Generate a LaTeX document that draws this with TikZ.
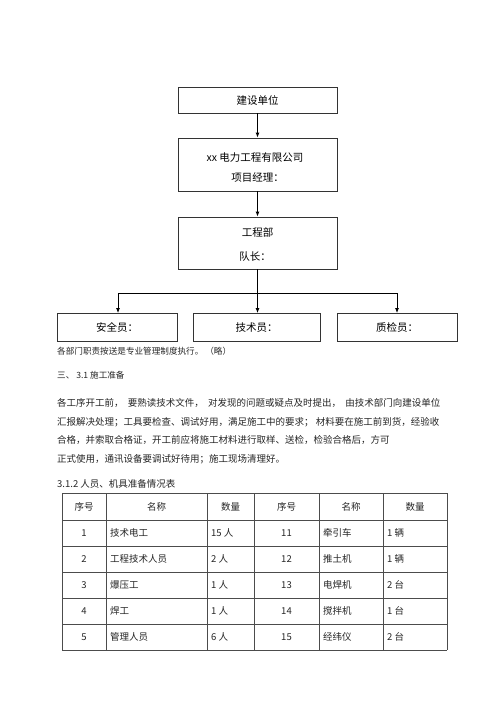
\documentclass[tikz,border=0pt]{standalone}
\usepackage{fontspec}
\setmainfont{Noto Sans CJK SC}
\usetikzlibrary{arrows.meta}
\begin{document}
\begin{tikzpicture}[x=1pt,y=-1pt,
  orgbox/.style={draw=black!80,line width=0.8pt,minimum height=#1,inner sep=0pt},
  con/.style={draw=black,line width=0.9pt},
  arr/.style={con,-{Latex[length=5pt,width=4pt]}},
  boxtxt/.style={font=\fontsize{10.5}{12}\selectfont,inner sep=0pt},
  para/.style={font=\fontsize{9.5}{11}\selectfont,inner sep=0pt,anchor=west,text=black!85},
  tab/.style={font=\fontsize{9.5}{11}\selectfont,inner sep=0pt,text=black!85},
  tabl/.style={tab,anchor=west},
  grid/.style={draw=black!70,line width=0.8pt}
]
\useasboundingbox[fill=white] (0,0) rectangle (500,708);

% org chart boxes
\node[orgbox=26pt,minimum width=159pt] (b1) at (257.5,100) {};
\node[boxtxt] (t1) at (257.5,100) {建设单位};
\node[orgbox=53pt,minimum width=159pt] (b2) at (257.5,164.5) {};
\node[boxtxt] (t2a) at (255,158) {xx 电力工程有限公司};
\node[boxtxt] (t2b) at (257.5,178) {项目经理：};
\node[orgbox=52pt,minimum width=159pt] (b3) at (257.5,243) {};
\node[boxtxt] (t3a) at (257.5,232) {工程部};
\node[boxtxt] (t3b) at (255,257) {队长：};
\node[orgbox=28pt,minimum width=120pt] (ba) at (117,327.5) {};
\node[boxtxt] (ta) at (117,327.5) {安全员：};
\node[orgbox=28pt,minimum width=127pt] (bb) at (256.5,327.5) {};
\node[boxtxt] (tb) at (256.5,327.5) {技术员：};
\node[orgbox=28pt,minimum width=120pt] (bc) at (397,327.5) {};
\node[boxtxt] (tc) at (397,327.5) {质检员：};

% connectors
\draw[arr] (b1.south) -- (b2.north);
\draw[arr] (b2.south) -- (b3.north);
\coordinate (j) at (257.5,293);
\coordinate (jl) at (118,293);
\coordinate (jr) at (397,293);
\draw[con] (b3.south) -- (j);
\draw[con] (jl) -- (jr);
\draw[arr] (jl) -- (jl |- ba.north);
\draw[arr] (j) -- (j |- bb.north);
\draw[arr] (jr) -- (jr |- bc.north);

% texts
\node[para,font=\fontsize{8.6}{10}\selectfont] (p0) at (57,351) {各部门职责按送是专业管理制度执行。 （略）};
\node[para,font=\fontsize{8.6}{10}\selectfont] (h1) at (57,375) {三、 3.1 施工准备};
\node[para] (p1) at (57,403) {各工序开工前，\ \ 要熟读技术文件，\ \ 对发现的问题或疑点及时提出，\ \ 由技术部门向建设单位};
\node[para] (p2) at (57,422) {汇报解决处理；工具要检查、调试好用，满足施工中的要求； 材料要在施工前到货，经验收};
\node[para] (p3) at (57,440) {合格，并索取合格证，开工前应将施工材料进行取样、送检，检验合格后，方可};
\node[para] (p4) at (57,459) {正式使用，通讯设备要调试好待用；施工现场清理好。};
\node[para] (h2) at (57,484) {3.1.2 人员、机具准备情况表};

% table grid
\foreach \yy in {493,520,546,572,598,624,650} \draw[grid] (62,\yy) -- (447,\yy);
\foreach \xx in {62,106,207,254,319,383,447} \draw[grid] (\xx,493) -- (\xx,650);

% header
\node[tab] (hA) at (84,506.5) {序号};
\node[tab] (hB) at (156.5,506.5) {名称};
\node[tab] (hC) at (230.5,506.5) {数量};
\node[tab] (hD) at (286.5,506.5) {序号};
\node[tab] (hE) at (351,506.5) {名称};
\node[tab] (hF) at (415,506.5) {数量};

% rows
\foreach \i/\yy/\na/\qa/\nb/\nm/\qb in {
 1/533/技术电工/15 人/11/牵引车/1 辆,
 2/559/工程技术人员/2 人/12/推土机/1 辆,
 3/585/爆压工/1 人/13/电焊机/2 台,
 4/611/焊工/1 人/14/搅拌机/1 台,
 5/637/管理人员/6 人/15/经纬仪/2 台}{
  \node[tab] (r\i a) at (84,\yy) {\i};
  \node[tabl] (r\i b) at (110,\yy) {\na};
  \node[tabl] (r\i c) at (211,\yy) {\qa};
  \node[tab] (r\i d) at (286.5,\yy) {\nb};
  \node[tabl] (r\i e) at (323,\yy) {\nm};
  \node[tabl] (r\i f) at (387,\yy) {\qb};
}
\end{tikzpicture}
\end{document}
